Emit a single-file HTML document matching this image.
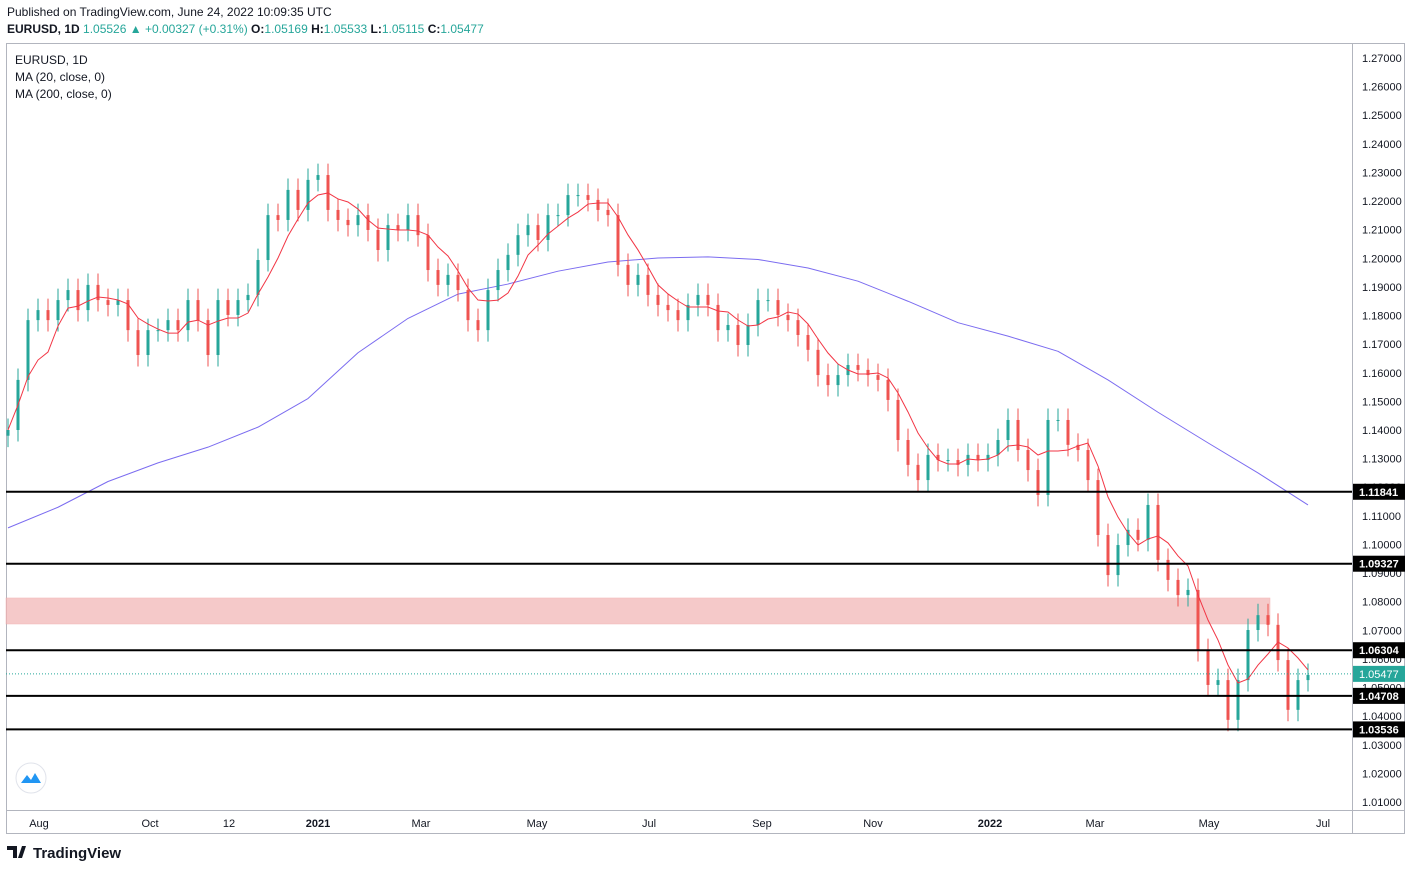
<!DOCTYPE html>
<html><head><meta charset="utf-8">
<style>
html,body{margin:0;padding:0;background:#fff;width:1412px;height:871px;overflow:hidden;font-family:"Liberation Sans",sans-serif}
.hdr{position:absolute;left:7px;font-size:12px;color:#131722;white-space:nowrap}
</style></head><body>
<div class="hdr" style="top:5px">Published on TradingView.com, June 24, 2022 10:09:35 UTC</div>
<div class="hdr" style="top:22px"><b>EURUSD, 1D</b> <span style="color:#26a69a">1.05526 ▲ +0.00327 (+0.31%)</span> <b>O:</b><span style="color:#26a69a">1.05169</span> <b>H:</b><span style="color:#26a69a">1.05533</span> <b>L:</b><span style="color:#26a69a">1.05115</span> <b>C:</b><span style="color:#26a69a">1.05477</span></div>
<svg id="c" width="1412" height="871" style="position:absolute;left:0;top:0"></svg>
<script>
const closes=[1.1400,1.1575,1.1784,1.1819,1.1784,1.1854,1.1889,1.1819,1.1907,1.1854,1.1837,1.1854,1.1749,1.1662,1.1749,1.1749,1.1784,1.1749,1.1854,1.1784,1.1662,1.1854,1.1802,1.1854,1.1872,1.1994,1.2151,1.2134,1.2239,1.2169,1.2274,1.2291,1.2169,1.2134,1.2116,1.2151,1.2099,1.2029,1.2116,1.2099,1.2151,1.2081,1.1959,1.1907,1.1942,1.1889,1.1784,1.1749,1.1889,1.1959,1.2012,1.2081,1.2116,1.2064,1.2151,1.2151,1.2221,1.2221,1.2204,1.2169,1.2151,1.1977,1.1907,1.1942,1.1872,1.1837,1.1819,1.1784,1.1837,1.1872,1.1837,1.1749,1.1767,1.1697,1.1767,1.1854,1.1854,1.1802,1.1784,1.1732,1.1680,1.1592,1.1557,1.1592,1.1627,1.1610,1.1592,1.1575,1.1505,1.1365,1.1278,1.1225,1.1313,1.1295,1.1295,1.1278,1.1313,1.1295,1.1313,1.1365,1.1435,1.1330,1.1260,1.1173,1.1435,1.1435,1.1348,1.1330,1.1225,1.1033,1.0893,1.0998,1.1051,1.1016,1.1138,1.0946,1.0876,1.0823,1.0841,1.0631,1.0509,1.0526,1.0387,1.0526,1.0701,1.0753,1.0719,1.0596,1.0422,1.0526,1.0544];
const ma200=[1.1058,1.1130,1.1220,1.1285,1.1340,1.1410,1.1510,1.1670,1.1790,1.1875,1.1910,1.1955,1.1987,1.2001,1.2005,1.1996,1.1966,1.1920,1.1850,1.1775,1.1728,1.1675,1.1575,1.1462,1.1355,1.1250,1.1138];
const levels=[1.11841,1.09327,1.06304,1.04708,1.03536];
const zone=[1.0722,1.0813];
const lastPrice=1.05477;
const monthLabels=["Aug","Oct","12","2021","Mar","May","Jul","Sep","Nov","2022","Mar","May","Jul"];
const monthX=[39,150,229,318,421,537,649,762,873,990,1095,1209,1323];
const svg=document.getElementById('c');const NS='http://www.w3.org/2000/svg';
function el(t,a,p){const e=document.createElementNS(NS,t);for(const k in a)e.setAttribute(k,a[k]);(p||svg).appendChild(e);return e;}
const y=p=>58+(1.27-p)*2861.5;const x=i=>8+i*10;
const frame=el('rect',{x:6.5,y:43.5,width:1398,height:790,fill:'none',stroke:'#b2b5be'});

const axl=el('line',{x1:1352.5,y1:43,x2:1352.5,y2:834,stroke:'#b2b5be'});

const bxl=el('line',{x1:6,y1:810.5,x2:1405,y2:810.5,stroke:'#b2b5be'});

const z=el('rect',{x:6,y:y(zone[1]),width:1264,height:y(zone[0])-y(zone[1]),fill:'#f2b8b8',opacity:0.75,stroke:'#f0a0a0','stroke-width':0.5});

for(let k=1;k<=27;k++){const p=1+k*0.01;const t=el('text',{x:1362,y:y(p)+4,'font-size':11,fill:'#131722'});t.textContent=p.toFixed(5);
}
monthLabels.forEach((m,i)=>{const t=el('text',{x:monthX[i],y:827,'font-size':11,fill:'#131722','text-anchor':'middle','font-weight':(m=='2021'||m=='2022')?'bold':'normal'});t.textContent=m;
});
let d='';ma200.forEach((v,i)=>{d+=(i?'L':'M')+x(i*5)+','+y(v);});
const m2=el('path',{d:d,fill:'none',stroke:'#7b6cf0','stroke-width':1,'stroke-linejoin':'round'});

closes.forEach((c,i)=>{const o=i?closes[i-1]:c-0.002;const up=c>=o;const col=up?'#26a69a':'#ef5350';
const hi=Math.max(o,c)+0.004,lo=Math.min(o,c)-0.004;
const g=el('g',{});
el('line',{x1:x(i),x2:x(i),y1:y(hi),y2:y(lo),stroke:col,'stroke-width':1},g);
const top=y(Math.max(o,c));el('rect',{x:x(i)-1.5,y:top,width:3,height:Math.max(1,y(Math.min(o,c))-top),fill:col},g);});
d='';closes.forEach((c,i)=>{const s=closes.slice(Math.max(0,i-4),i+1);const a=s.reduce((p,q)=>p+q,0)/s.length;d+=(i?'L':'M')+x(i)+','+y(a);});
const m1=el('path',{d:d,fill:'none',stroke:'#f23645','stroke-width':1});

levels.forEach(l=>{const ln=el('line',{x1:6,x2:1352,y1:y(l),y2:y(l),stroke:'#000','stroke-width':2});

const r=el('rect',{x:1353,y:y(l)-8,width:52,height:16,fill:'#000'});
const t=el('text',{x:1359,y:y(l)+4,'font-size':11,fill:'#fff','font-weight':'bold'});t.textContent=l.toFixed(5);
});
const lp=el('line',{x1:6,x2:1352,y1:y(lastPrice),y2:y(lastPrice),stroke:'#26a69a','stroke-dasharray':'1,2'});

const lr=el('rect',{x:1353,y:y(lastPrice)-8,width:52,height:16,fill:'#26a69a'});
const lt=el('text',{x:1359,y:y(lastPrice)+4,'font-size':11,fill:'#fff'});lt.textContent=lastPrice.toFixed(5);

[['EURUSD, 1D',64],['MA (20, close, 0)',81],['MA (200, close, 0)',98]].forEach((a,i)=>{const t=el('text',{x:15,y:a[1],'font-size':12,fill:'#131722'});t.textContent=a[0];
});
const lc=el('circle',{cx:31,cy:778,r:15,fill:'#fff',stroke:'#e0e3eb'});
el('path',{d:'M21 783 L27 775 L31 780 L35 773 L41 783 Z',fill:'#2196f3'});
const lg=el('path',{d:'M7 846 H17 V858 H13 V850 H7 Z M18 858 L22 846 H26 L22 858 Z',fill:'#131722'});

const b=el('text',{x:33,y:858,'font-size':15,'font-weight':'bold',fill:'#131722'});
b.textContent='TradingView';
</script>
</body></html>
